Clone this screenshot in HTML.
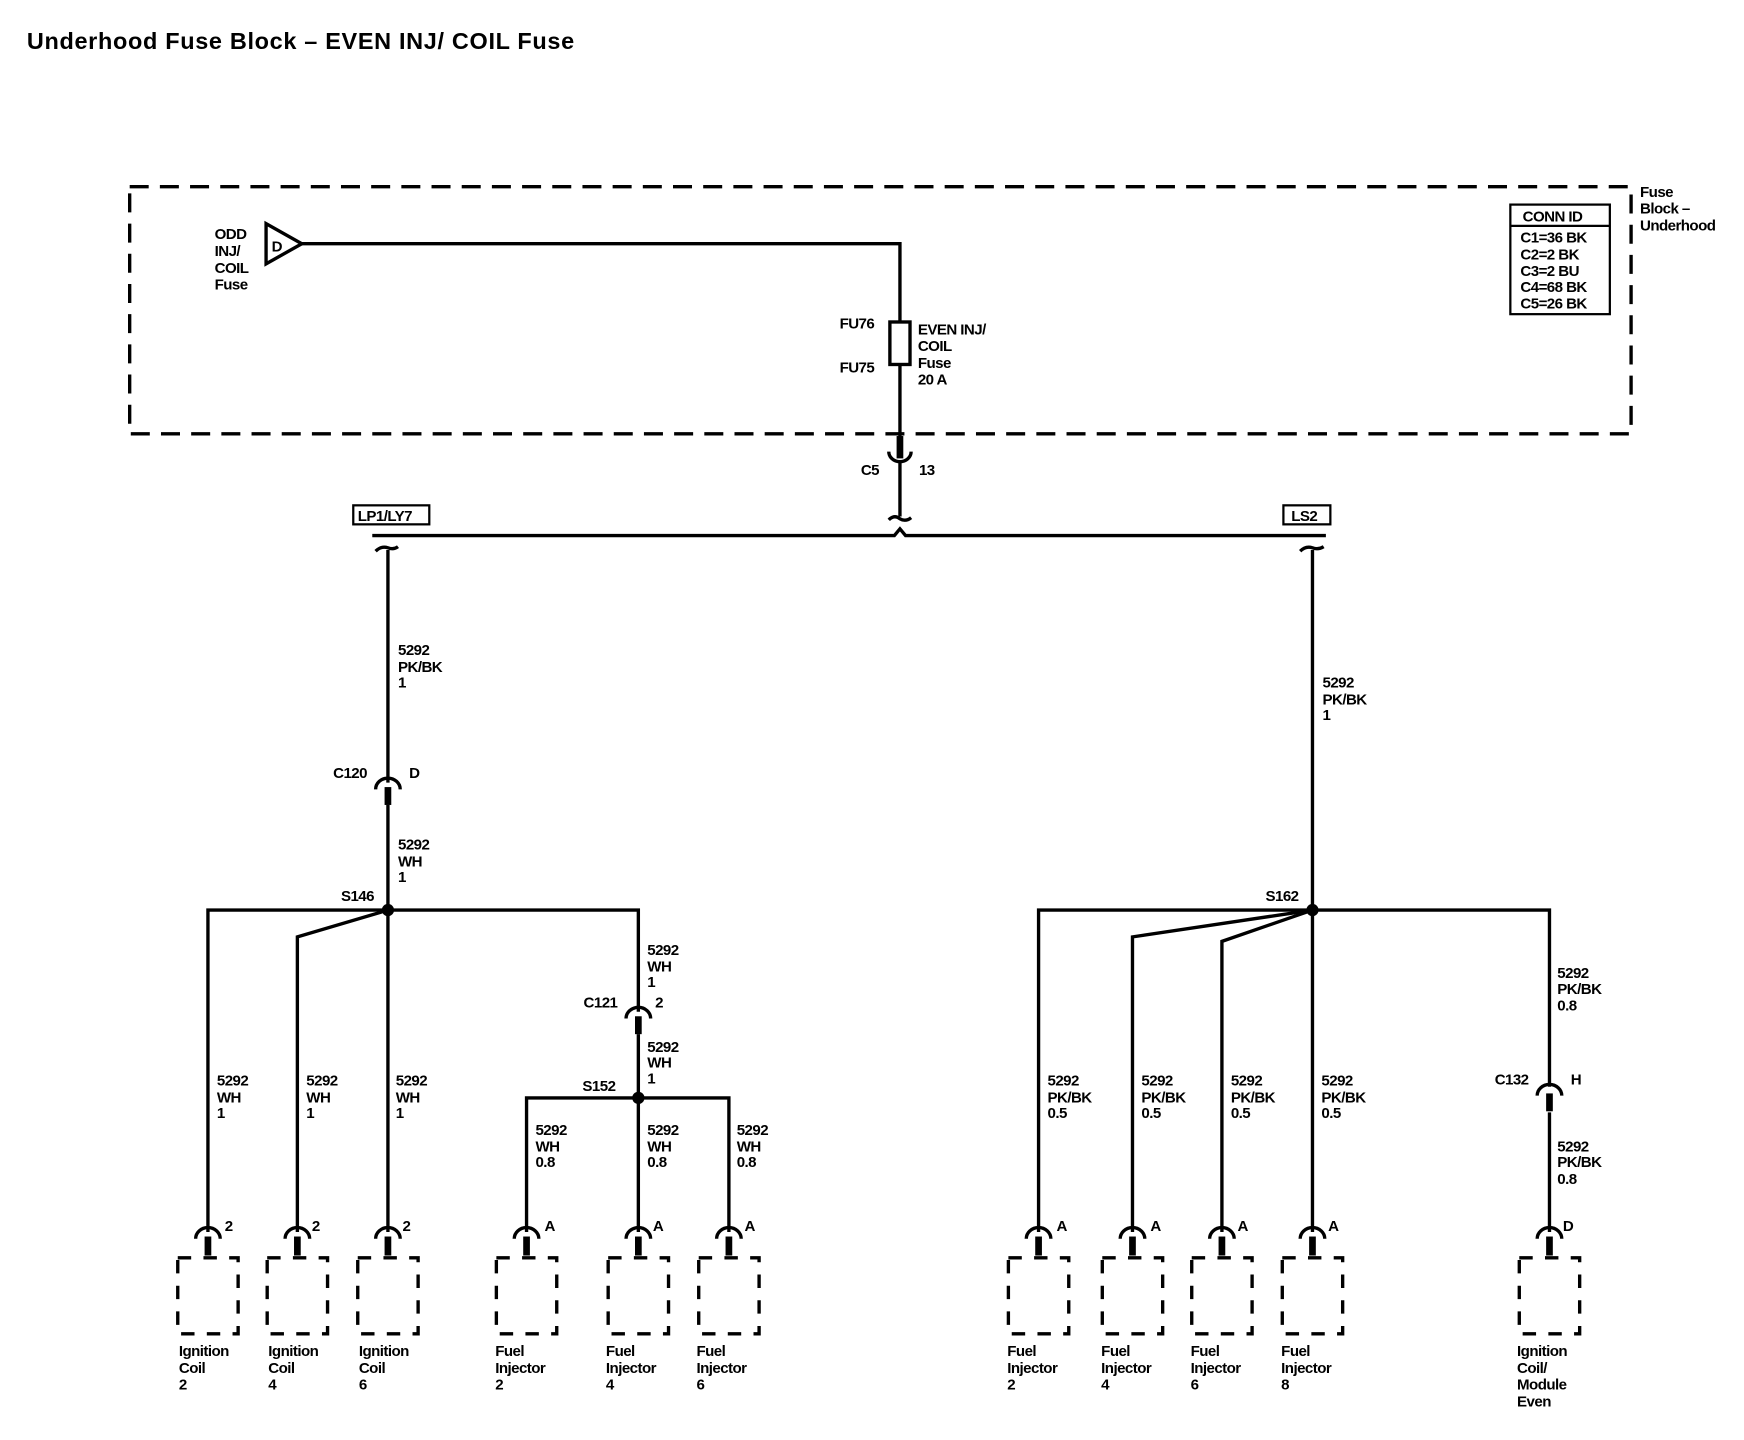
<!DOCTYPE html>
<html><head><meta charset="utf-8"><style>
html,body{margin:0;padding:0;background:#fff}
svg{display:block}
text{font-family:"Liberation Sans",Arial,sans-serif;font-size:13.5px;font-weight:bold;fill:#000;letter-spacing:-0.5px}
</style></head><body>
<svg width="1744" height="1440" viewBox="0 0 1560 1288" preserveAspectRatio="none" xmlns="http://www.w3.org/2000/svg">
<defs>
<g id="fc"><path d="M-11,8 A11,10 0 0 1 11,8" fill="none" stroke="#000" stroke-width="3"/><line x1="0" y1="6" x2="0" y2="22" stroke="#000" stroke-width="6"/></g>
<g id="comp"><path d="M-11,8 A11,10 0 0 1 11,8" fill="none" stroke="#000" stroke-width="3"/><line x1="0" y1="6" x2="0" y2="23" stroke="#000" stroke-width="6"/>
<path d="M-27,25 H27 V93 H-27 Z" fill="none" stroke="#000" stroke-width="3" stroke-dasharray="12 11"/></g>
</defs>
<text x="24" y="44" style="font-size:21px;font-weight:bold;letter-spacing:0.6px">Underhood Fuse Block – EVEN INJ/ COIL Fuse</text>
<rect x="116" y="167" width="1343" height="221" fill="none" stroke="#000" stroke-width="3" stroke-dasharray="17 10"/>
<text x="1467" y="176">Fuse</text><text x="1467" y="191">Block –</text><text x="1467" y="206">Underhood</text>
<rect x="1351" y="183" width="89" height="98" fill="none" stroke="#000" stroke-width="2"/>
<line x1="1351" y1="202" x2="1440" y2="202" stroke="#000" stroke-width="2"/>
<text x="1362" y="198">CONN ID</text><text x="1360" y="217">C1=36 BK</text><text x="1360" y="232">C2=2 BK</text><text x="1360" y="247">C3=2 BU</text><text x="1360" y="261">C4=68 BK</text><text x="1360" y="276">C5=26 BK</text>
<text x="192" y="214">ODD</text><text x="192" y="229">INJ/</text><text x="192" y="244">COIL</text><text x="192" y="259">Fuse</text>
<polygon points="238,200 238,236 270,218" fill="none" stroke="#000" stroke-width="3"/>
<text x="243" y="225">D</text>
<g stroke="#000" stroke-width="3" fill="none">
<polyline points="270,218 805,218 805,288"/>
<rect x="796" y="288" width="18" height="38"/>
<line x1="805" y1="326" x2="805" y2="392"/>
<line x1="805" y1="390" x2="805" y2="410" stroke-width="6"/>
<path d="M795,404 A10,9 0 0 0 815,404"/>
<line x1="805" y1="412" x2="805" y2="462"/>
<path d="M795,465 Q800,460 805,464 Q810,467 815,463"/>
<polyline points="333,479 800,479 805,473 810,479 1186,479"/>
<path d="M336,493 Q341,488 347,490 Q352,492 356,489"/>
<path d="M1163,493 Q1168,488 1174,490 Q1179,492 1184,489"/>
<line x1="347" y1="492" x2="347" y2="700"/>
<line x1="347" y1="720" x2="347" y2="814"/>
<polyline points="186,1102 186,814 571,814 571,905"/>
<polyline points="266,1102 266,838 347,814"/>
<line x1="347" y1="814" x2="347" y2="1102"/>
<line x1="571" y1="925" x2="571" y2="1102"/>
<polyline points="471,1102 471,982 652,982 652,1102"/>
<line x1="1174" y1="492" x2="1174" y2="1102"/>
<polyline points="929,1102 929,814 1386,814 1386,972"/>
<polyline points="1013,1102 1013,838 1174,814"/>
<polyline points="1093,1102 1093,842 1174,814"/>
<line x1="1386" y1="995" x2="1386" y2="1102"/>
</g>
<rect x="316" y="452" width="68" height="17" fill="none" stroke="#000" stroke-width="2"/><text x="320" y="466">LP1/LY7</text>
<rect x="1148" y="452" width="42" height="17" fill="none" stroke="#000" stroke-width="2"/><text x="1155" y="466">LS2</text>
<text x="751" y="294">FU76</text><text x="751" y="333">FU75</text>
<text x="821" y="299">EVEN INJ/</text><text x="821" y="314">COIL</text><text x="821" y="329">Fuse</text><text x="821" y="344">20 A</text>
<text x="770" y="425">C5</text><text x="822" y="425">13</text>
<text x="356" y="586">5292</text><text x="356" y="601">PK/BK</text><text x="356" y="615">1</text>
<use href="#fc" x="347" y="698"/>
<text x="298" y="696">C120</text><text x="366" y="696">D</text>
<text x="356" y="760">5292</text><text x="356" y="775">WH</text><text x="356" y="789">1</text>
<text x="305" y="806">S146</text><circle cx="347" cy="814" r="5.5"/>
<text x="579" y="854">5292</text><text x="579" y="869">WH</text><text x="579" y="883">1</text>
<use href="#fc" x="571" y="903"/>
<text x="522" y="901">C121</text><text x="586" y="901">2</text>
<text x="579" y="941">5292</text><text x="579" y="955">WH</text><text x="579" y="969">1</text>
<text x="521" y="976">S152</text><circle cx="571" cy="982" r="5.5"/>
<text x="194" y="971">5292</text><text x="194" y="986">WH</text><text x="194" y="1000">1</text>
<text x="274" y="971">5292</text><text x="274" y="986">WH</text><text x="274" y="1000">1</text>
<text x="354" y="971">5292</text><text x="354" y="986">WH</text><text x="354" y="1000">1</text>
<text x="479" y="1015">5292</text><text x="479" y="1030">WH</text><text x="479" y="1044">0.8</text>
<text x="579" y="1015">5292</text><text x="579" y="1030">WH</text><text x="579" y="1044">0.8</text>
<text x="659" y="1015">5292</text><text x="659" y="1030">WH</text><text x="659" y="1044">0.8</text>
<text x="1183" y="615">5292</text><text x="1183" y="630">PK/BK</text><text x="1183" y="644">1</text>
<text x="1132" y="806">S162</text><circle cx="1174" cy="814" r="5.5"/>
<text x="937" y="971">5292</text><text x="937" y="986">PK/BK</text><text x="937" y="1000">0.5</text>
<text x="1021" y="971">5292</text><text x="1021" y="986">PK/BK</text><text x="1021" y="1000">0.5</text>
<text x="1101" y="971">5292</text><text x="1101" y="986">PK/BK</text><text x="1101" y="1000">0.5</text>
<text x="1182" y="971">5292</text><text x="1182" y="986">PK/BK</text><text x="1182" y="1000">0.5</text>
<text x="1393" y="875">5292</text><text x="1393" y="889">PK/BK</text><text x="1393" y="904">0.8</text>
<use href="#fc" x="1386" y="972"/>
<text x="1337" y="970">C132</text><text x="1405" y="970">H</text>
<text x="1393" y="1030">5292</text><text x="1393" y="1044">PK/BK</text><text x="1393" y="1059">0.8</text>
<use href="#comp" x="186" y="1100"/><use href="#comp" x="266" y="1100"/><use href="#comp" x="347" y="1100"/>
<use href="#comp" x="471" y="1100"/><use href="#comp" x="571" y="1100"/><use href="#comp" x="652" y="1100"/>
<use href="#comp" x="929" y="1100"/><use href="#comp" x="1013" y="1100"/><use href="#comp" x="1093" y="1100"/><use href="#comp" x="1174" y="1100"/><use href="#comp" x="1386" y="1100"/>
<text x="201" y="1101">2</text><text x="279" y="1101">2</text><text x="360" y="1101">2</text>
<text x="487" y="1101">A</text><text x="584" y="1101">A</text><text x="666" y="1101">A</text>
<text x="945" y="1101">A</text><text x="1029" y="1101">A</text><text x="1107" y="1101">A</text><text x="1188" y="1101">A</text><text x="1398" y="1101">D</text>
<text x="160" y="1213">Ignition</text><text x="160" y="1228">Coil</text><text x="160" y="1243">2</text>
<text x="240" y="1213">Ignition</text><text x="240" y="1228">Coil</text><text x="240" y="1243">4</text>
<text x="321" y="1213">Ignition</text><text x="321" y="1228">Coil</text><text x="321" y="1243">6</text>
<text x="443" y="1213">Fuel</text><text x="443" y="1228">Injector</text><text x="443" y="1243">2</text>
<text x="542" y="1213">Fuel</text><text x="542" y="1228">Injector</text><text x="542" y="1243">4</text>
<text x="623" y="1213">Fuel</text><text x="623" y="1228">Injector</text><text x="623" y="1243">6</text>
<text x="901" y="1213">Fuel</text><text x="901" y="1228">Injector</text><text x="901" y="1243">2</text>
<text x="985" y="1213">Fuel</text><text x="985" y="1228">Injector</text><text x="985" y="1243">4</text>
<text x="1065" y="1213">Fuel</text><text x="1065" y="1228">Injector</text><text x="1065" y="1243">6</text>
<text x="1146" y="1213">Fuel</text><text x="1146" y="1228">Injector</text><text x="1146" y="1243">8</text>
<text x="1357" y="1213">Ignition</text><text x="1357" y="1228">Coil/</text><text x="1357" y="1243">Module</text><text x="1357" y="1258">Even</text>
</svg>
</body></html>
